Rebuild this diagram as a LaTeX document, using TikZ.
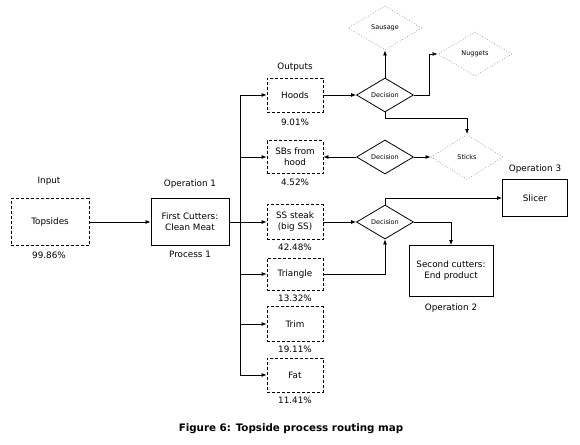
\documentclass[tikz,border=0pt]{standalone}
\usepackage{fontspec}
\setmainfont{DejaVu Sans}
\usetikzlibrary{shapes.geometric, arrows.meta, positioning}

\tikzset{
  stockbox/.style={draw, dash pattern=on 3pt off 2pt, line width=0.8pt, minimum width=56pt, minimum height=34pt, align=center, inner sep=1pt, font=\fontsize{8.8}{11}\selectfont},
  opbox/.style={draw, line width=0.9pt, align=center, inner sep=1pt, font=\fontsize{8.8}{11}\selectfont},
  decision/.style={draw, diamond, line width=0.8pt, minimum width=57pt, minimum height=34pt, inner sep=0pt, font=\fontsize{6.5}{8}\selectfont},
  product/.style={decision, draw=gray!65, dotted, line width=0.9pt, minimum width=74pt, minimum height=44pt},
  lbl/.style={font=\fontsize{8.8}{11}\selectfont, inner sep=0pt},
  flow/.style={-{Latex[length=5pt,width=4pt]}, line width=0.8pt},
}

\begin{document}
\begin{tikzpicture}[x=1pt, y=-1pt]
  \useasboundingbox (0,0) rectangle (580,444);

  % Input and first operation
  \node[stockbox, minimum width=78pt, minimum height=47pt] (in) at (50,222) {Topsides};
  \node[lbl] (inlbl) at (49,181) {Input};
  \node[lbl] (inpct) at (49,255) {99.86\%};
  \node[opbox, minimum width=78pt, minimum height=47pt] (cut) at (190,222) {First Cutters:\\Clean Meat};
  \node[lbl] (op1) at (190,184) {Operation 1};
  \node[lbl] (proc1) at (190,254) {Process 1};

  % Outputs
  \node[lbl] (outlbl) at (295,67) {Outputs};
  \node[stockbox] (hoods) at (295,95) {Hoods};
  \node[lbl] (hoodspct) at (295,122) {9.01\%};
  \node[stockbox, minimum height=33pt] (sbs) at (295,157) {SBs from\\hood};
  \node[lbl] (sbspct) at (295,182) {4.52\%};
  \node[stockbox, minimum height=35pt] (ss) at (295,222) {SS steak\\(big SS)};
  \node[lbl] (sspct) at (295,247) {42.48\%};
  \node[stockbox, minimum height=32pt] (tri) at (295,274) {Triangle};
  \node[lbl] (tripct) at (295,298) {13.32\%};
  \node[stockbox, minimum height=35pt] (trim) at (295,324) {Trim};
  \node[lbl] (trimpct) at (295,349) {19.11\%};
  \node[stockbox] (fat) at (295,375) {Fat};
  \node[lbl] (fatpct) at (295,400) {11.41\%};

  % Decisions and products
  \node[decision] (dec1) at (385,95) {Decision};
  \node[decision] (dec2) at (385,157) {Decision};
  \node[decision] (dec3) at (385,222) {Decision};
  \node[product] (sausage) at (385,28) {Sausage};
  \node[product] (nuggets) at (475,54) {Nuggets};
  \node[product, minimum width=72pt, minimum height=45pt] (sticks) at (467,157) {Sticks};

  % Further operations
  \node[opbox, minimum width=65pt, minimum height=37pt] (slicer) at (535,198) {Slicer};
  \node[lbl] (op3) at (535,169) {Operation 3};
  \node[opbox, minimum width=84pt, minimum height=51pt] (second) at (451,271) {Second cutters:\\End product};
  \node[lbl] (op2) at (451,308) {Operation 2};

  \node[font=\bfseries\fontsize{10.3}{12}\selectfont] (caption) at (291,429) {Figure 6: Topside process routing map};

  % Connectors
  \coordinate (bus) at (240,0);
  \draw[flow] (in) -- (cut);
  \draw[flow] (cut) -- (ss);
  \draw[line width=0.8pt] (hoods.west -| bus) -- (fat.west -| bus);
  \foreach \out in {hoods, sbs, tri, trim, fat}
    \draw[flow] (\out.west -| bus) -- (\out.west);

  \draw[flow] (hoods) -- (dec1);
  \draw[flow] (dec1.north) -- (sausage.south);
  \draw[flow] (dec1.east) -- ++(15,0) |- (nuggets.west);
  \draw[flow] (dec1.south) -- ++(0,6) -| (sticks.north);
  \draw[flow] (dec2) -- (sbs);
  \draw[flow] (dec2) -- (sticks);
  \draw[flow] (ss) -- (dec3);
  \draw[flow] (tri.east) -| (dec3.south);
  \draw[flow] (dec3.north) |- (slicer.west);
  \draw[flow] (dec3.east) -| (second.north);
\end{tikzpicture}
\end{document}
